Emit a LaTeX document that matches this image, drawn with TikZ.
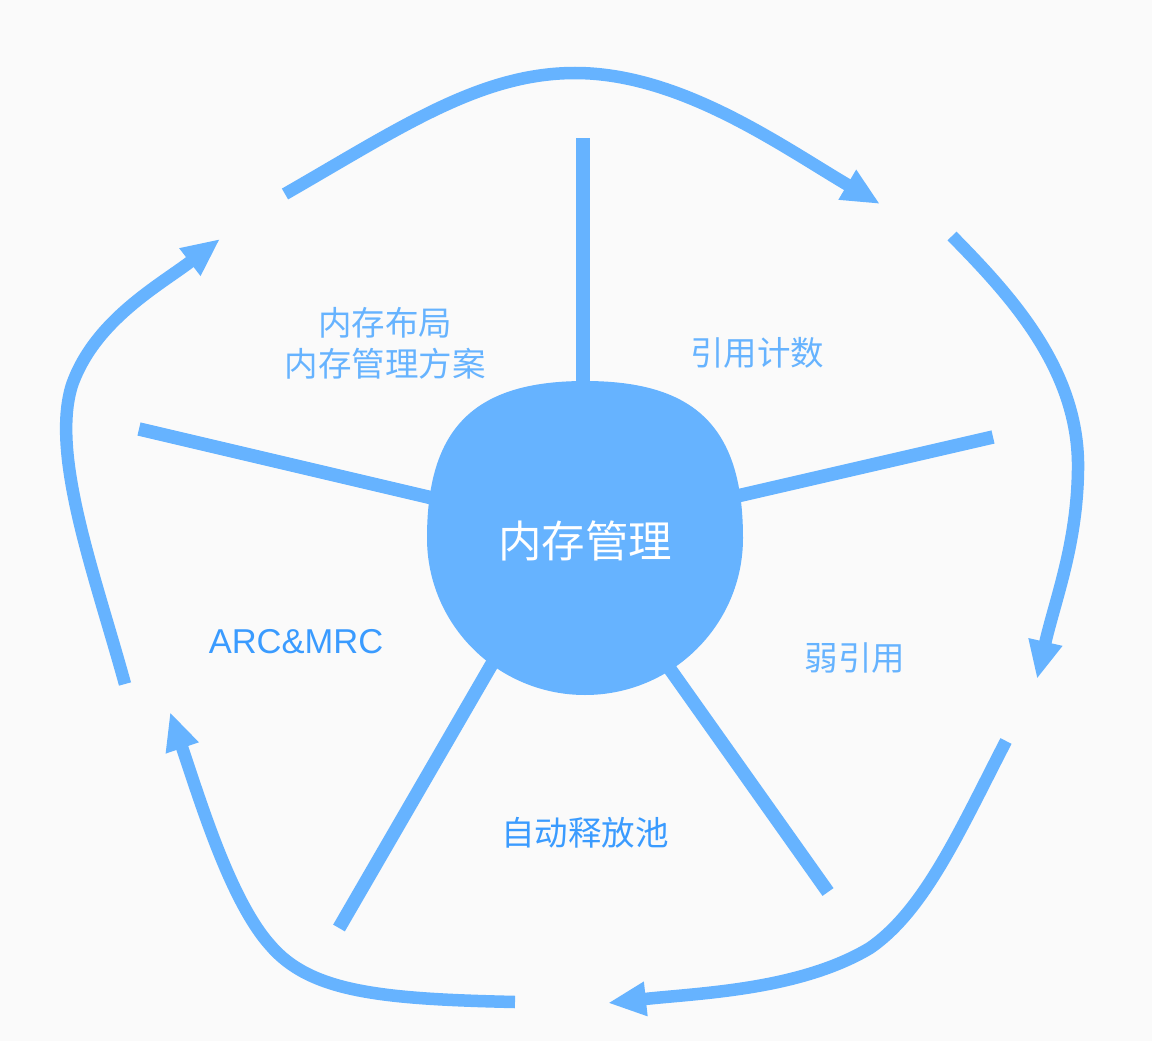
\documentclass[tikz,border=0pt]{standalone}
\usepackage{fontspec}
\usetikzlibrary{arrows.meta}
\setmainfont{Liberation Sans}
\newfontfamily\cjk{Noto Sans CJK SC}
\newfontfamily\latinf{Liberation Sans}
\definecolor{bg}{HTML}{FAFAFA}
\definecolor{mainblue}{HTML}{66B3FF}
\definecolor{darkblue}{HTML}{3A9BFF}
\begin{document}
\begin{tikzpicture}[x=1pt,y=-1pt,
  cyclearrow/.style={draw=mainblue,line width=12.5pt,-{Triangle[length=38pt,width=32pt]}},
  spoke/.style={draw=mainblue,line width=13.5pt},
  lbl/.style={text=mainblue,font=\cjk\fontsize{33.5}{41}\selectfont,align=center,inner sep=0pt},
  lbldark/.style={text=darkblue,font=\cjk\fontsize{33.5}{41}\selectfont,align=center,inner sep=0pt}
]
\fill[bg] (0,0) rectangle (1152,1041);
\useasboundingbox (0,0) rectangle (1152,1041);

% spokes
\coordinate (sTopIn) at (583,400);  \coordinate (sTopOut) at (583,138);
\coordinate (sRIn) at (720,500);    \coordinate (sROut) at (993,437);
\coordinate (sLIn) at (445,501);    \coordinate (sLOut) at (139,429);
\coordinate (sBLIn) at (500,650);   \coordinate (sBLOut) at (339,928);
\coordinate (sBRIn) at (660,655);   \coordinate (sBROut) at (828,892);
\draw[spoke] (sTopIn) -- (sTopOut);
\draw[spoke] (sRIn) -- (sROut);
\draw[spoke] (sLIn) -- (sLOut);
\draw[spoke] (sBLIn) -- (sBLOut);
\draw[spoke] (sBRIn) -- (sBROut);

% central blob
\fill[mainblue] (427,538) .. controls (427,428) and (474,381) .. (585,381)
  .. controls (696,381) and (743,428) .. (743,538)
  .. controls (743,625) and (672,695) .. (585,695)
  .. controls (498,695) and (427,625) .. (427,538) -- cycle;
\node[text=white,font=\cjk\fontsize{43.5}{50}\selectfont,inner sep=0pt] (core) at (585,541) {内存管理};

% labels
\node[lbl] (layout) at (385,343) {内存布局\\内存管理方案};
\node[lbl] (refcount) at (757,353) {引用计数};
\node[lbl] (weakref) at (855,658) {弱引用};
\node[lbldark] (pool) at (585,833) {自动释放池};
\node[text=darkblue,font=\latinf\fontsize{34.5}{40}\selectfont,inner sep=0pt] (arc) at (296,642) {ARC\&MRC};

% cycle arrows
\coordinate (a1s) at (285,194); \coordinate (a1e) at (880,204);
\coordinate (a2s) at (952,236); \coordinate (a2e) at (1037,679);
\coordinate (a3s) at (1006,741); \coordinate (a3e) at (608,1003);
\coordinate (a4s) at (515,1002); \coordinate (a4e) at (170,712);
\coordinate (a5s) at (125,684); \coordinate (a5e) at (220,239);

\draw[cyclearrow] (a1s) .. controls (400,128) and (480,73) .. (575,73)
  .. controls (680,73) and (780,145) .. (a1e);
\draw[cyclearrow] (a2s) .. controls (1010,295) and (1080,370) .. (1078,470)
  .. controls (1077,545) and (1055,600) .. (a2e);
\draw[cyclearrow] (a3s) .. controls (960,830) and (925,910) .. (870,948)
  .. controls (800,990) and (700,993) .. (a3e);
\draw[cyclearrow] (a4s) .. controls (380,999) and (310,992) .. (270,945)
  .. controls (230,900) and (200,800) .. (a4e);
\draw[cyclearrow] (a5s) .. controls (95,575) and (50,455) .. (72,385)
  .. controls (95,320) and (160,285) .. (a5e);
\end{tikzpicture}
\end{document}
